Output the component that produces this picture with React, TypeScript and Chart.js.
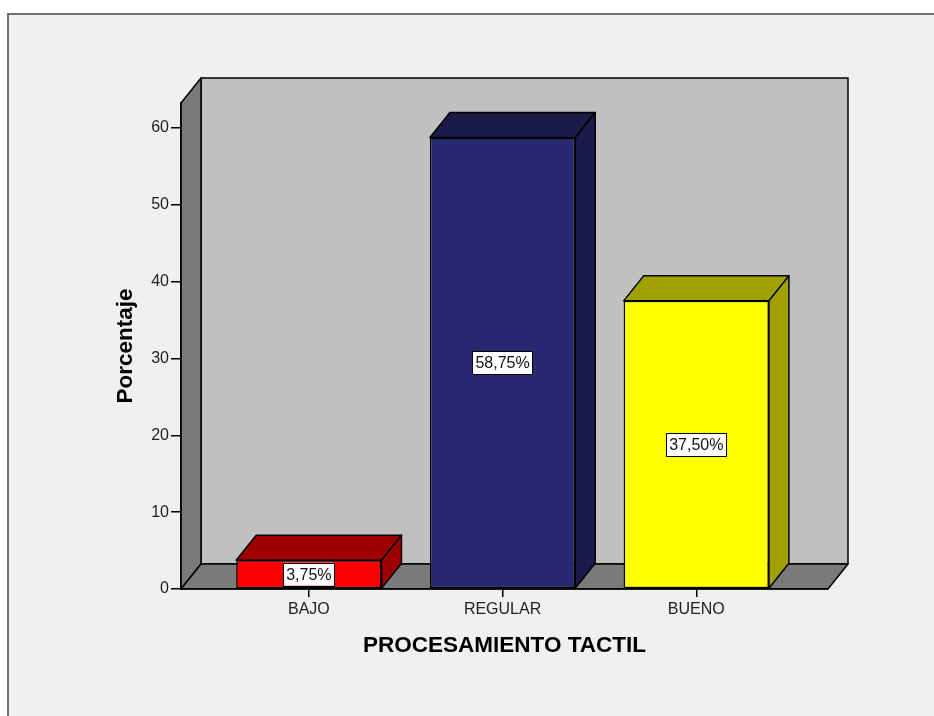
import React, { useEffect, useRef } from 'react';
import { Chart, registerables } from 'chart.js';

Chart.register(...registerables);

const categories = ['BAJO', 'REGULAR', 'BUENO'];
const percentages = [3.75, 58.75, 37.5];
const yTicks = [0, 10, 20, 30, 40, 50, 60];
const frontColors = ['#ff0000', '#282870', '#ffff00'];
const shadeColors = ['#9e0000', '#1b1b4a', '#a0a000'];
const xTitle = 'PROCESAMIENTO TACTIL';
const yTitle = 'Porcentaje';

const FONT = 'Arial, "Liberation Sans", sans-serif';
const DX = 20;
const DY = -25;

const fmt = (v: number) => v.toFixed(2).replace('.', ',') + '%';

const threeD = {
  id: 'threeD',
  beforeDraw(chart: any) {
    const ctx = chart.ctx as CanvasRenderingContext2D;
    const { width, height } = chart;
    const { left, top, right, bottom } = chart.chartArea;
    ctx.save();
    ctx.fillStyle = '#ffffff';
    ctx.fillRect(0, 0, width, height);
    ctx.fillStyle = '#f0f0f0';
    ctx.fillRect(7, 13, width, height);
    ctx.strokeStyle = '#707070';
    ctx.lineWidth = 2;
    ctx.beginPath();
    ctx.moveTo(8, height);
    ctx.lineTo(8, 14);
    ctx.lineTo(width, 14);
    ctx.stroke();

    ctx.lineWidth = 1.5;
    ctx.lineJoin = 'round';
    ctx.strokeStyle = '#000';
    // back wall
    ctx.fillStyle = '#c0c0c0';
    ctx.beginPath();
    ctx.rect(left + DX, top + DY, right - left, bottom - top);
    ctx.fill();
    ctx.stroke();
    // left wall
    ctx.fillStyle = '#7a7a7a';
    ctx.beginPath();
    ctx.moveTo(left, top);
    ctx.lineTo(left + DX, top + DY);
    ctx.lineTo(left + DX, bottom + DY);
    ctx.lineTo(left, bottom);
    ctx.closePath();
    ctx.fill();
    ctx.stroke();
    // floor
    ctx.fillStyle = '#7a7a7a';
    ctx.beginPath();
    ctx.moveTo(left, bottom);
    ctx.lineTo(right, bottom);
    ctx.lineTo(right + DX, bottom + DY);
    ctx.lineTo(left + DX, bottom + DY);
    ctx.closePath();
    ctx.fill();
    ctx.stroke();
    ctx.restore();
  },
  afterDatasetsDraw(chart: any) {
    const ctx = chart.ctx as CanvasRenderingContext2D;
    const meta = chart.getDatasetMeta(0);
    ctx.save();
    ctx.lineWidth = 1.5;
    ctx.lineJoin = 'round';
    ctx.strokeStyle = '#000';
    meta.data.forEach((bar: any, i: number) => {
      const { x, y, base, width } = bar.getProps(['x', 'y', 'base', 'width'], true);
      const l = x - width / 2;
      const r = x + width / 2;
      ctx.fillStyle = shadeColors[i];
      // top face
      ctx.beginPath();
      ctx.moveTo(l, y);
      ctx.lineTo(r, y);
      ctx.lineTo(r + DX, y + DY);
      ctx.lineTo(l + DX, y + DY);
      ctx.closePath();
      ctx.fill();
      ctx.stroke();
      // side face
      ctx.beginPath();
      ctx.moveTo(r, y);
      ctx.lineTo(r + DX, y + DY);
      ctx.lineTo(r + DX, base + DY);
      ctx.lineTo(r, base);
      ctx.closePath();
      ctx.fill();
      ctx.stroke();
    });
    meta.data.forEach((bar: any, i: number) => {
      const { x, y, base } = bar.getProps(['x', 'y', 'base'], true);
      const text = fmt(percentages[i]);
      ctx.font = `16px ${FONT}`;
      const tw = ctx.measureText(text).width;
      const bw = tw + 6;
      const bh = 23;
      const cy = (y + base) / 2;
      ctx.fillStyle = '#ffffff';
      ctx.fillRect(x - bw / 2, cy - bh / 2, bw, bh);
      ctx.lineWidth = 1;
      ctx.strokeStyle = '#000';
      ctx.strokeRect(Math.round(x - bw / 2) + 0.5, Math.round(cy - bh / 2) + 0.5, Math.round(bw), bh);
      ctx.fillStyle = '#111';
      ctx.textAlign = 'center';
      ctx.textBaseline = 'middle';
      ctx.fillText(text, x, cy + 1);
    });
    ctx.restore();
  },
};

export default function App() {
  const ref = useRef<HTMLCanvasElement | null>(null);
  useEffect(() => {
    if (!ref.current) return;
    const chart = new Chart(ref.current, {
      type: 'bar',
      data: {
        datasets: [
          {
            data: categories.map((_, i) => ({ x: i, y: percentages[i] })) as any,
            backgroundColor: frontColors,
            borderColor: '#000',
            borderWidth: 1.5,
            borderSkipped: false,
            barPercentage: 0.75,
            categoryPercentage: 1,
          },
        ],
      },
      options: {
        responsive: false,
        animation: false,
        layout: { padding: { left: 110, top: 103, right: 106, bottom: 0 } },
        plugins: { legend: { display: false }, tooltip: { enabled: false } },
        scales: {
          x: {
            type: 'linear',
            min: -0.66,
            max: 2.68,
            offset: false,
            afterBuildTicks: (s: any) => {
              s.ticks = categories.map((_, i) => ({ value: i }));
            },
            afterFit: (s: any) => {
              s.height = 127;
            },
            ticks: {
              callback: (v: any) => categories[v] ?? '',
              font: { family: FONT, size: 16 },
              color: '#222',
              padding: 3,
              maxRotation: 0,
              autoSkip: false,
            },
            grid: {
              offset: false,
              drawOnChartArea: false,
              drawTicks: true,
              tickLength: 8,
              color: '#000',
              lineWidth: 1.5,
            },
            border: { display: true, color: '#000', width: 1.5 },
            title: {
              display: true,
              text: xTitle,
              font: { family: FONT, size: 22.5, weight: 'bold' },
              color: '#000',
              padding: { top: 0, bottom: 56.5 },
            },
          },
          y: {
            min: 0,
            max: 63.25,
            afterBuildTicks: (s: any) => {
              s.ticks = yTicks.map((v) => ({ value: v }));
            },
            afterFit: (s: any) => {
              s.width = 71;
            },
            ticks: { font: { family: FONT, size: 16 }, color: '#222', padding: 2 },
            grid: { drawOnChartArea: false, drawTicks: true, tickLength: 10, color: '#000', lineWidth: 1.5 },
            border: { display: true, color: '#000', width: 1.5 },
            title: {
              display: true,
              text: yTitle,
              font: { family: FONT, size: 22.5, weight: 'bold' },
              color: '#000',
              padding: { top: 2, bottom: 0 },
            },
          },
        },
      } as any,
      plugins: [threeD],
    });
    return () => chart.destroy();
  }, []);
  return (
    <div style={{ position: 'fixed', left: 0, top: 0, width: 934, height: 716 }}>
      <canvas ref={ref} width={934} height={716} style={{ display: 'block' }} />
    </div>
  );
}
